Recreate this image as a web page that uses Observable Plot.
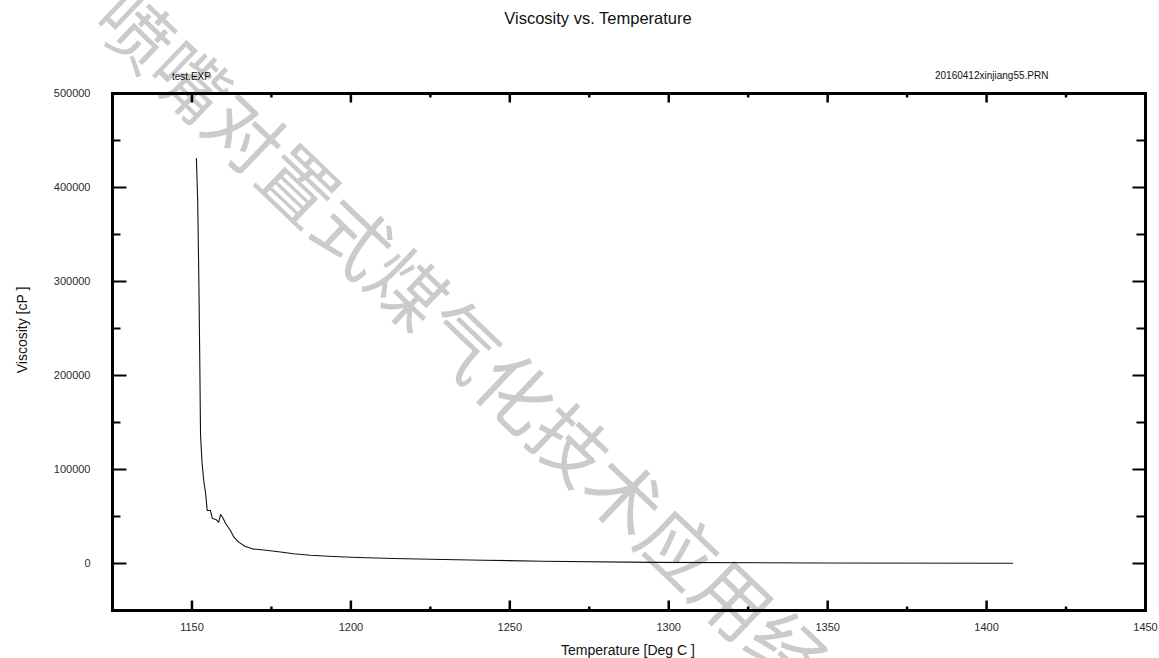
<!DOCTYPE html>
<html>
<head>
<meta charset="utf-8">
<script src="https://cdn.jsdelivr.net/npm/d3@7"></script>
<script src="https://cdn.jsdelivr.net/npm/@observablehq/plot@0.6"></script>
<style>
  html, body { margin: 0; padding: 0; background: #fff; }
  #wrap { position: relative; width: 1159px; height: 658px; overflow: hidden; font-family: "Liberation Sans", Arial, sans-serif; }
  #wm { position: absolute; left: 0; top: 0; z-index: 0; }
  #chart { position: absolute; left: 0; top: 0; z-index: 1; }
  .lbl { position: absolute; z-index: 2; color: #111; white-space: nowrap; line-height: 1; }
</style>
</head>
<body>
<div id="wrap">
  <svg id="wm" width="1159" height="658"></svg>
  <div id="chart"></div>
  <div class="lbl" id="title" style="font-size:16.5px; left:598px; top:18px; transform:translate(-50%,-50%);">Viscosity vs. Temperature</div>
  <div class="lbl" id="left" style="font-size:10px; left:172px; top:77px; transform:translate(0,-50%);">test.EXP</div>
  <div class="lbl" id="right" style="font-size:10px; left:935px; top:76px; transform:translate(0,-50%);">20160412xinjiang55.PRN</div>
  <div class="lbl" id="xlab" style="font-size:14px; left:628px; top:650px; transform:translate(-50%,-50%);">Temperature [Deg C ]</div>
  <div class="lbl" id="ylab" style="font-size:14px; left:22px; top:330px; transform:translate(-50%,-50%) rotate(-90deg);">Viscosity [cP ]</div>
</div>
<script>
// ---- data ----
const temperature = [1151.4, 1151.8, 1152.2, 1152.5, 1152.7, 1153.2, 1153.7, 1154.3, 1154.8, 1155.8, 1156.4, 1157.6, 1158.4, 1159.0, 1159.7, 1160.6, 1162.1, 1163.2, 1164.7, 1166.8, 1169.0, 1172.6, 1177.9, 1181.9, 1187.3, 1194.5, 1202.4, 1213.4, 1225.1, 1241.7, 1260.3, 1294.3, 1347.1, 1408.2];
const viscosity   = [430800, 386200, 293600, 202100, 136200, 106400, 88300, 74500, 56400, 56400, 47900, 46800, 43900, 52100, 48600, 42600, 35100, 28000, 22700, 18100, 15600, 14300, 12300, 10400, 8700, 7400, 6400, 5300, 4500, 3500, 2400, 1200, 500, 300];

const xTicks = [1150, 1200, 1250, 1300, 1350, 1400, 1450];
const xMinorTicks = [1175, 1225, 1275, 1325, 1375, 1425];
const yTicks = [0, 100000, 200000, 300000, 400000, 500000];
const yMinorTicks = [50000, 150000, 250000, 350000, 450000];
const xDomain = [1125, 1450];
const yDomain = [-50000, 500000];
const watermark = "喷嘴对置式煤气化技术应用经验";

const data = temperature.map((t, i) => ({temperature: t, viscosity: viscosity[i]}));

const W = 1159, H = 658, mL = 112, mR = 14, mT = 93, mB = 48;
const fw = W - mL - mR, fh = H - mT - mB;

const chart = Plot.plot({
  width: W, height: H,
  marginLeft: mL, marginRight: mR, marginTop: mT, marginBottom: mB,
  style: {fontFamily: "'Liberation Sans', Arial, sans-serif", fontSize: "11px", color: "#222", background: "transparent", overflow: "visible"},
  x: {domain: xDomain},
  y: {domain: yDomain},
  marks: [
    Plot.line(data, {x: "temperature", y: "viscosity", stroke: "#111", strokeWidth: 1.1}),
    // bottom ticks
    Plot.tickX(xTicks, {x: d => d, insetTop: fh - 9.5, stroke: "#000", strokeWidth: 2.5}),
    Plot.tickX(xMinorTicks, {x: d => d, insetTop: fh - 3.5, stroke: "#000", strokeWidth: 2.5}),
    // top ticks
    Plot.tickX(xTicks, {x: d => d, insetBottom: fh - 9.5, stroke: "#000", strokeWidth: 2.5}),
    Plot.tickX(xMinorTicks, {x: d => d, insetBottom: fh - 4.5, stroke: "#000", strokeWidth: 2.5}),
    // left ticks
    Plot.tickY(yTicks, {y: d => d, insetRight: fw - 14.5, stroke: "#000", strokeWidth: 2}),
    Plot.tickY(yMinorTicks, {y: d => d, insetRight: fw - 8.5, stroke: "#000", strokeWidth: 2}),
    // right ticks
    Plot.tickY(yTicks, {y: d => d, insetLeft: fw - 12.5, stroke: "#000", strokeWidth: 2}),
    Plot.tickY(yMinorTicks, {y: d => d, insetLeft: fw - 8.5, stroke: "#000", strokeWidth: 2}),
    Plot.frame({stroke: "#000", strokeWidth: 3}),
    Plot.axisX(xTicks, {tickSize: 0, tickPadding: 13, label: null, tickFormat: d => String(d), fill: "#2b2b2b"}),
    Plot.axisY(yTicks, {tickSize: 0, tickPadding: 22, label: null, tickFormat: d => String(d), fill: "#2b2b2b"})
  ]
});
document.getElementById("chart").appendChild(chart);

// watermark overlay text
const wm = d3.select("#wm");
wm.append("text")
  .attr("transform", "translate(112,1) rotate(43.7)")
  .attr("font-family", "'Noto Sans CJK SC', sans-serif")
  .attr("font-size", 75)
  .attr("fill", "#cbcbcb")
  .attr("dominant-baseline", "central")
  .text(watermark);
</script>
</body>
</html>
